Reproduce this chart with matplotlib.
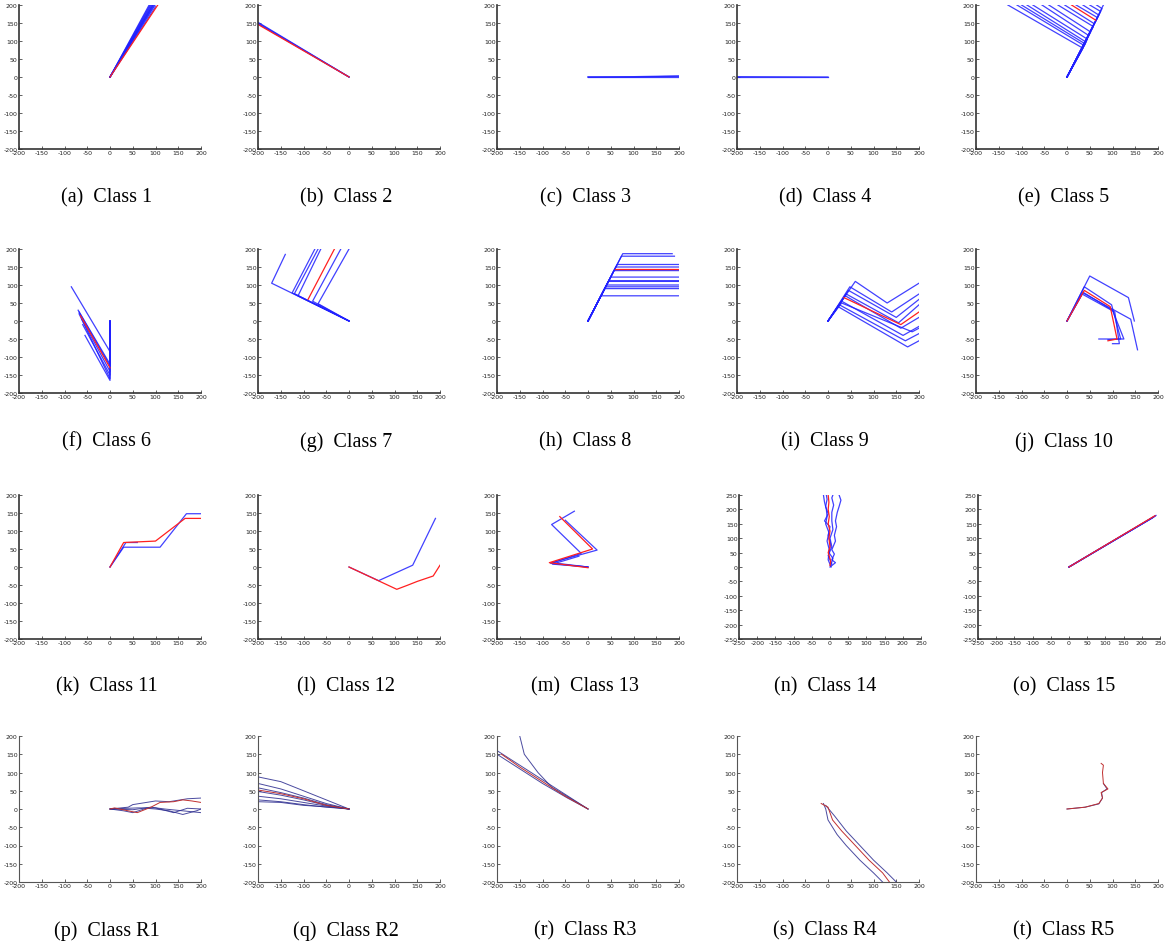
import matplotlib
matplotlib.use('Agg')
from matplotlib import pyplot as plt

plt.rcParams['axes.unicode_minus'] = False

W, H = 1168, 945

# ---- trajectory data: each trajectory is a list of (x, y) points ----
c1_blue = [[(0, 0), (x, 200)] for x in [86, 88, 90, 92, 94, 95, 97, 99]] + [[(0, 0), (100, 195)]]
c1_red = [[(0, 0), (105, 200)]]

c2_blue = [[(0, 0), (-200, 152)], [(0, 0), (-200, 148)], [(0, 0), (-200, 150)]]
c2_red = [[(0, 0), (-200, 146)]]

c3_blue = [[(0, 0), (200, 0)], [(0, 0), (100, 0), (200, 2)], [(0, 0), (100, 1), (200, 3)]]
c3_red = []

c4_blue = [[(0, 0), (-200, 0)], [(0, 0), (-200, 1)]]
c4_red = []

c5_turn = [(35, 80), (37, 88), (40, 92), (42, 97), (45, 105), (48, 115), (52, 125),
           (58, 140), (60, 148), (67, 165), (70, 172), (74, 182), (77, 190)]
c5_end_x = [-130, -110, -100, -88, -75, -55, -40, -20, -5, 20, 35, 50, 65]
c5_blue = [[(0, 0), t, (e, 200)] for t, e in zip(c5_turn, c5_end_x)] + [[(0, 0), (80, 200)]]
c5_red = [[(63, 158), (10, 200)]]

c6_blue = [[(0, 0), (0, -85), (-85, 95)], [(0, 0), (0, -120), (-70, 30)],
           [(0, 0), (0, -125), (-68, 25)], [(0, 0), (0, -140), (-62, 5)],
           [(0, 0), (0, -150), (-60, -10)], [(0, 0), (0, -165), (-55, -40)],
           [(0, 0), (0, -160), (-68, 20)]]
c6_red = [[(0, -130), (-65, 15)]]

c7_blue = [[(0, 0), (-125, 78), (-75, 200)], [(0, 0), (-120, 76), (-68, 200)],
           [(0, 0), (-112, 70), (-62, 200)], [(0, 0), (-80, 55), (-18, 200)],
           [(0, 0), (-68, 48), (0, 200)], [(0, 0), (-170, 105), (-140, 185)]]
c7_red = [[(-90, 60), (-32, 200)]]

c8_turn_y = [70, 90, 95, 100, 110, 112, 122, 140, 150, 157, 180, 187]
c8_end_x = [200, 200, 200, 200, 200, 200, 200, 200, 200, 200, 190, 185]
c8_blue = [[(0, 0), (y / 2.45, y), (e, y)] for y, e in zip(c8_turn_y, c8_end_x)]
c8_red = [[(145 / 2.45, 145), (200, 145)]]

c9_blue = [[(0, 0), (60, 110), (130, 50), (200, 105)],
           [(0, 0), (48, 95), (140, 25), (200, 75)],
           [(0, 0), (45, 85), (150, 10), (200, 60)],
           [(0, 0), (40, 75), (155, -5), (200, 45)],
           [(0, 0), (38, 70), (160, -20), (200, 10)],
           [(0, 0), (30, 55), (165, -40), (200, -15)],
           [(0, 0), (25, 45), (170, -55), (200, -35)],
           [(0, 0), (22, 40), (175, -72), (200, -55)],
           [(0, 0), (30, 50), (185, -30), (200, -20)]]
c9_red = [[(35, 65), (160, -10), (200, 25)]]

c10_blue = [[(0, 0), (50, 125), (135, 65), (148, 0)],
            [(0, 0), (38, 95), (98, 45), (118, -50), (90, -52)],
            [(0, 0), (35, 80), (100, 30), (125, -50), (70, -50)],
            [(0, 0), (33, 75), (105, 25), (115, -63), (100, -63)],
            [(0, 0), (35, 78), (140, 5), (155, -80)]]
c10_red = [[(0, 0), (38, 85), (95, 40), (110, -50), (90, -55)]]

c11_blue = [[(0, 0), (30, 55), (110, 55), (168, 148), (200, 148)],
            [(0, 0), (35, 68), (60, 68)]]
c11_red = [[(0, 0), (30, 68), (100, 72), (165, 135), (200, 135)]]

c12_blue = [[(0, 0), (65, -38), (140, 5), (190, 135)]]
c12_red = [[(0, 0), (105, -62), (130, -50), (150, -40), (185, -25), (200, 5)]]

c13_blue = [[(0, 0), (-82, 10), (-15, 38), (-80, 118), (-30, 155)],
            [(0, 0), (-80, 12), (20, 47), (-50, 130)],
            [(0, 0), (-78, 8), (-20, 30)]]
c13_red = [[(0, -2), (-85, 12), (10, 50), (-62, 140)]]

c14_blue = [[(0, 0), (15, 15), (5, 25), (12, 45), (5, 60), (15, 90), (12, 110), (18, 140),
             (15, 160), (20, 190), (25, 210), (30, 232), (25, 250)],
            [(3, 0), (-5, 25), (-2, 60), (-8, 90), (-3, 120), (-12, 150), (-8, 175),
             (-10, 200), (-15, 225), (-18, 250)],
            [(2, 5), (8, 30), (-3, 50), (2, 80), (-5, 110), (0, 140), (-15, 160),
             (-5, 185), (-12, 210), (-8, 235), (-10, 250)],
            [(5, 10), (-5, 40), (5, 70), (0, 100), (8, 130), (5, 160), (5, 190),
             (10, 215), (5, 240), (8, 250)]]
c14_red = [[(0, 5), (2, 20), (-5, 50), (0, 70), (-3, 100), (0, 125), (-5, 150),
            (-2, 175), (-5, 200), (-3, 225), (-5, 250)]]

c15_blue = [[(0, 0), (x, y)] for x, y in [(228, 170), (231, 172), (234, 175), (237, 177), (239, 179)]]
c15_red = [[(0, 0), (236, 178)]]

r1_blue = [[(0, 0), (40, 5), (50, 12), (80, 18), (100, 22), (130, 20), (170, 28), (200, 30)],
           [(0, 0), (30, -5), (50, -10), (80, 2), (100, 0), (130, -5), (160, -15), (190, -5), (200, 0)],
           [(0, 0), (50, -2), (90, 5), (120, 0), (160, -5), (200, -10)],
           [(0, 0), (60, 3), (100, 3), (140, -10), (170, 2), (200, 0)]]
r1_red = [[(0, 0), (10, 3), (40, -5), (60, -10), (90, 5), (110, 18), (140, 20), (160, 25),
           (180, 22), (200, 18)]]

r2_blue = [[(0, 0), (-50, 15), (-100, 35), (-150, 55), (-200, 70)],
           [(0, 0), (-50, 25), (-100, 50), (-150, 75), (-200, 88)],
           [(0, 0), (-50, 10), (-100, 25), (-150, 38), (-200, 48)],
           [(0, 0), (-50, 8), (-100, 18), (-150, 28), (-200, 35)],
           [(0, 0), (-50, 5), (-100, 12), (-150, 20), (-200, 25)],
           [(0, 0), (-40, 5), (-100, 10), (-150, 18), (-200, 20)],
           [(0, 0), (-50, 12), (-100, 30), (-150, 45), (-200, 58)]]
r2_red = [[(0, 0), (-50, 10), (-100, 28), (-150, 42), (-200, 52)]]

r3_blue = [[(0, 0), (-40, 30), (-80, 60), (-110, 100), (-140, 150), (-150, 200)],
           [(0, 0), (-50, 40), (-100, 80), (-150, 120), (-200, 160)],
           [(0, 0), (-45, 30), (-100, 70), (-150, 110), (-200, 150)]]
r3_red = [[(0, 0), (-50, 35), (-100, 75), (-150, 115), (-190, 150)]]

r4_blue = [[(-10, 15), (-5, 0), (0, -30), (20, -70), (40, -100), (70, -140), (100, -175), (120, -200)],
           [(-5, 10), (15, -20), (40, -60), (70, -100), (100, -140), (130, -175), (150, -200)]]
r4_red = [[(-15, 15), (0, 5), (10, -30), (30, -60), (60, -100), (90, -140), (120, -175), (135, -200)]]

r5_blue = [[(0, 0), (40, 5), (70, 14), (78, 30), (76, 45), (88, 55), (80, 70)]]
r5_red = [[(0, 0), (40, 5), (70, 15), (78, 30), (75, 45), (90, 55), (80, 70), (78, 100),
           (80, 120), (75, 125)]]

captions = ['(a)  Class 1', '(b)  Class 2', '(c)  Class 3', '(d)  Class 4', '(e)  Class 5',
            '(f)  Class 6', '(g)  Class 7', '(h)  Class 8', '(i)  Class 9', '(j)  Class 10',
            '(k)  Class 11', '(l)  Class 12', '(m)  Class 13', '(n)  Class 14', '(o)  Class 15',
            '(p)  Class R1', '(q)  Class R2', '(r)  Class R3', '(s)  Class R4', '(t)  Class R5']

panel_lines = [(c1_blue, c1_red), (c2_blue, c2_red), (c3_blue, c3_red), (c4_blue, c4_red),
               (c5_blue, c5_red), (c6_blue, c6_red), (c7_blue, c7_red), (c8_blue, c8_red),
               (c9_blue, c9_red), (c10_blue, c10_red), (c11_blue, c11_red), (c12_blue, c12_red),
               (c13_blue, c13_red), (c14_blue, c14_red), (c15_blue, c15_red),
               (r1_blue, r1_red), (r2_blue, r2_red), (r3_blue, r3_red), (r4_blue, r4_red),
               (r5_blue, r5_red)]

ticks_200 = list(range(-200, 201, 50))
ticks_250 = list(range(-250, 251, 50))

# layout in pixels
col_left = [19, 258, 497, 737, 976]
row_top = [6, 250, 496, 737]
row_h = [144, 144, 144, 146]
cap_y = [198, 442, 687, 931]
ax_w = 182

fig = plt.figure(figsize=(W / 100, H / 100), dpi=100)

for i, (blue, red) in enumerate(panel_lines):
    r, c = divmod(i, 5)
    left = col_left[c] + (2 if i in (13, 14) else 0)
    ax = fig.add_axes([left / W, 1 - (row_top[r] + row_h[r]) / H, ax_w / W, row_h[r] / H])
    bottom_row = r == 3
    if bottom_row:
        bcol, rcol, lw = '#2b2b8f', '#c03030', 0.7
    else:
        bcol, rcol, lw = '#2020ff', '#ff2020', 0.9
    for tr in blue:
        xs, ys = zip(*tr)
        ax.plot(xs, ys, color=bcol, linewidth=lw, alpha=0.85)
    for tr in red:
        xs, ys = zip(*tr)
        ax.plot(xs, ys, color=rcol, linewidth=lw)
    if i in (13, 14):
        ax.set_xlim(-250, 250)
        ax.set_ylim(-250, 250)
        ax.set_xticks(ticks_250)
        ax.set_yticks(ticks_250)
    else:
        ax.set_xlim(-200, 200)
        ax.set_ylim(-200, 200)
        ax.set_xticks(ticks_200)
        ax.set_yticks(ticks_200)
    for s in ['top', 'right']:
        ax.spines[s].set_visible(False)
    spc = '#555555' if bottom_row else '#333333'
    for s in ['left', 'bottom']:
        ax.spines[s].set_color(spc)
        ax.spines[s].set_linewidth(0.8 if bottom_row else 1.2)
    ax.tick_params(direction='in', length=2, width=0.5, labelsize=4.5, pad=1,
                   colors='#222222')
    fig.text((col_left[c] + 88) / W, 1 - cap_y[r] / H, captions[i],
             ha='center', va='center', fontsize=14.5, family='Liberation Serif')

fig.savefig('out.png', dpi=100)
